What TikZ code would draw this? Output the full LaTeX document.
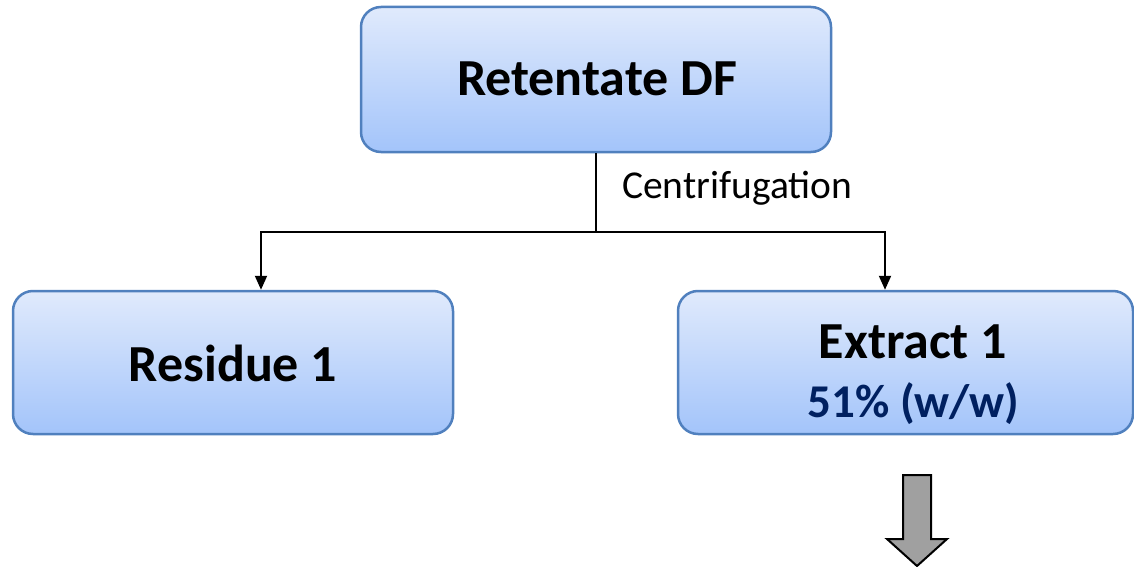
\documentclass[tikz,border=0pt]{standalone}
\usepackage{fontspec}
\setmainfont{Carlito}
\usetikzlibrary{arrows.meta}
\definecolor{boxtop}{RGB}{224,234,252}
\definecolor{boxbot}{RGB}{163,196,250}
\definecolor{boxline}{RGB}{80,128,190}
\definecolor{navy}{RGB}{0,32,96}
\definecolor{arrgray}{RGB}{160,160,160}
\tikzset{
  box/.style={draw=boxline, line width=2.5pt, rounded corners=20pt,
    top color=boxtop, bottom color=boxbot, inner sep=0pt},
  bigtext/.style={font=\bfseries\fontsize{52}{56}\selectfont, inner sep=0pt},
  conn/.style={line width=2pt, draw=black},
  arr/.style={conn, -{Triangle[length=14pt,width=12pt]}},
}
\begin{document}
\begin{tikzpicture}[x=1pt,y=-1pt]
\useasboundingbox (0,0) rectangle (1134,567);
\node[box, minimum width=470pt, minimum height=145pt] (top) at (596,79.5) {};
\node[bigtext, anchor=base] (topt) at (597,96) {Retentate DF};
\node[box, minimum width=440pt, minimum height=143pt] (res) at (233,362.5) {};
\node[bigtext, anchor=base] (rest) at (233,381) {Residue 1};
\node[box, minimum width=455pt, minimum height=143pt] (ext) at (905.5,362.5) {};
\node[bigtext, anchor=base] (extt) at (913,358) {Extract 1};
\node[font=\bfseries\fontsize{47}{50}\selectfont, text=navy, anchor=base, inner sep=0pt] (extp) at (913.5,417) {51\% (w/w)};
\coordinate (split) at (596,232);
\coordinate (lx) at (261,0);
\coordinate (rx) at (885,0);
\draw[conn] (top.south) -- (split);
\draw[arr] (split) -| (lx |- res.north);
\draw[arr] (split) -| (rx |- ext.north);
\node[font=\fontsize{39.5}{44}\selectfont, anchor=base west, inner sep=0pt] (lab) at (622,198) {Centrifugation};
\draw[line width=2pt, fill=arrgray, line join=miter]
  (903,475) -- (931,475) -- (931,539) -- (947,539) -- (917,566) -- (887,539) -- (903,539) -- cycle;
\end{tikzpicture}
\end{document}
